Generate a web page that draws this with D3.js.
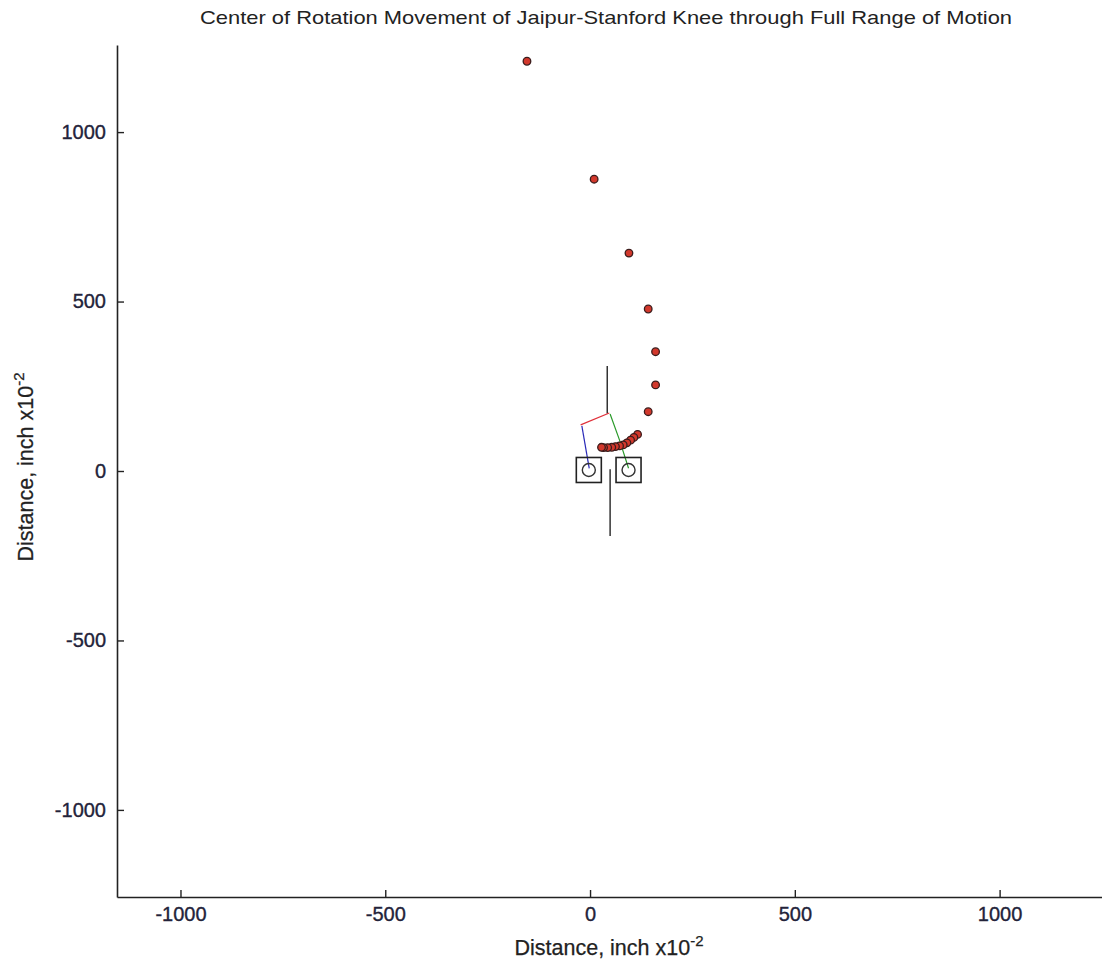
<!DOCTYPE html>
<html>
<head>
<meta charset="utf-8">
<script src="https://cdn.jsdelivr.net/npm/d3@7"></script>
<style>
  html, body { margin: 0; padding: 0; background: #fff; }
  svg { display: block; }
  text { font-family: "Liberation Sans", Arial, sans-serif; }
</style>
</head>
<body>
<svg id="chart" width="1102" height="963"></svg>
<script>
// ---- data (inch x10^-2) ----
const corX = [-154, 10, 95, 142, 160, 160, 142, 116, 107, 99, 90, 81, 72, 62, 53, 43, 33, 28];
const corY = [1209, 861, 643, 478, 352, 254, 175, 108, 99, 91, 83, 77, 74, 72, 70, 69, 69, 70];

const pivotX = [-3, 94];
const pivotY = [3, 3];

const thighLineX = [42, 42];
const thighLineY = [310, 170];
const shinLineX = [49, 49];
const shinLineY = [5, -192];
const redLinkX = [-23, 47];
const redLinkY = [136, 171];
const blueLinkX = [-20, -2];
const blueLinkY = [133, 8];
const greenLinkX = [49, 72, 94];
const greenLinkY = [168, 91, 8];

const xTicks = [-1000, -500, 0, 500, 1000];
const yTicks = [-1000, -500, 0, 500, 1000];

const titleText = "Center of Rotation Movement of Jaipur-Stanford Knee through Full Range of Motion";
const axisLabel = "Distance, inch x10";
const axisExp = "-2";

// ---- layout ----
const svg = d3.select("#chart");
const mLeft = 117, mRight = 1102, mTop = 45, mBottom = 897;

const x = d3.scaleLinear().domain([-1155, 1250]).range([mLeft, mRight]);
const y = d3.scaleLinear().domain([-1257, 1257]).range([mBottom, mTop]);

// title
svg.append("text")
  .attr("x", 606).attr("y", 24)
  .attr("text-anchor", "middle")
  .attr("font-size", 19)
  .attr("fill", "#222")
  .attr("textLength", 812)
  .attr("lengthAdjust", "spacingAndGlyphs")
  .text(titleText);

// axes
const fmt = d => String(d);
const xAxis = d3.axisBottom(x).tickValues(xTicks).tickSizeInner(-7).tickSizeOuter(0).tickPadding(10).tickFormat(fmt);
const yAxis = d3.axisLeft(y).tickValues(yTicks).tickSizeInner(-7).tickSizeOuter(0).tickPadding(11).tickFormat(fmt);

const gx = svg.append("g").attr("transform", `translate(0,${mBottom})`).call(xAxis);
const gy = svg.append("g").attr("transform", `translate(${mLeft},0)`).call(yAxis);

[gx, gy].forEach(g => {
  g.select(".domain").attr("stroke", "#222").attr("stroke-width", 1.6);
  g.selectAll(".tick line").attr("stroke", "#222").attr("stroke-width", 1.4);
  g.selectAll(".tick text")
    .attr("font-family", "'Liberation Sans', Arial, sans-serif")
    .attr("font-size", 20)
    .attr("fill", "#23233a")
    .attr("stroke", "#23233a")
    .attr("stroke-width", 0.35);
});

// x label
const xl = svg.append("text")
  .attr("x", 609).attr("y", 955)
  .attr("text-anchor", "middle")
  .attr("font-size", 21.5)
  .attr("fill", "#222")
  .attr("stroke", "#222").attr("stroke-width", 0.25);
xl.append("tspan").text(axisLabel);
xl.append("tspan").attr("dy", -9).attr("font-size", 15).text(axisExp);

// y label
const yl = svg.append("text")
  .attr("transform", `translate(33,467) rotate(-90)`)
  .attr("text-anchor", "middle")
  .attr("font-size", 21.5)
  .attr("fill", "#222")
  .attr("stroke", "#222").attr("stroke-width", 0.25);
yl.append("tspan").text(axisLabel);
yl.append("tspan").attr("dy", -9).attr("font-size", 15).text(axisExp);

// mechanism
const line = d3.line().x(d => x(d[0])).y(d => y(d[1]));
const mech = svg.append("g").attr("fill", "none");
function drawLink(xs, ys, color, w) {
  mech.append("path")
    .attr("d", line(d3.zip(xs, ys)))
    .attr("stroke", color)
    .attr("stroke-width", w);
}
drawLink(thighLineX, thighLineY, "#333", 1.5);
drawLink(shinLineX, shinLineY, "#333", 1.5);
drawLink(redLinkX, redLinkY, "#e0303a", 1.2);
drawLink(blueLinkX, blueLinkY, "#2a2ab8", 1.2);
drawLink(greenLinkX, greenLinkY, "#2a9a2a", 1.2);

const pivots = d3.zip(pivotX, pivotY);
mech.selectAll("rect.piv").data(pivots).join("rect")
  .attr("class", "piv")
  .attr("x", d => x(d[0]) - 12.5)
  .attr("y", d => y(d[1]) - 12.5)
  .attr("width", 25).attr("height", 25)
  .attr("stroke", "#222").attr("stroke-width", 1.6);
mech.selectAll("circle.piv").data(pivots).join("circle")
  .attr("class", "piv")
  .attr("cx", d => x(d[0]))
  .attr("cy", d => y(d[1]))
  .attr("r", 6.5)
  .attr("stroke", "#333").attr("stroke-width", 1.4);

// center of rotation points
svg.append("g").selectAll("circle").data(d3.zip(corX, corY)).join("circle")
  .attr("cx", d => x(d[0]))
  .attr("cy", d => y(d[1]))
  .attr("r", 3.8)
  .attr("fill", "#d2382c")
  .attr("stroke", "#3a1c1c")
  .attr("stroke-width", 1.3);
</script>
</body>
</html>
